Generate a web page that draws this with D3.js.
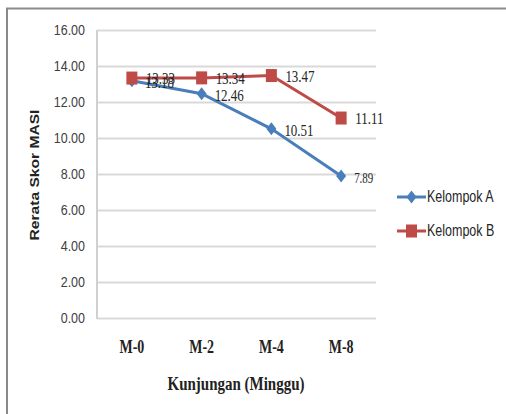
<!DOCTYPE html>
<html>
<head>
<meta charset="utf-8">
<script src="https://cdn.jsdelivr.net/npm/d3@7"></script>
<style>
  html, body { margin: 0; padding: 0; background: #fff; }
  svg { display: block; }
</style>
</head>
<body>
<svg id="chart" width="506" height="414"></svg>
<script>
// Mean MASI score per visit week for two groups
const categories = ["M-0", "M-2", "M-4", "M-8"];
const kelompokA = [13.18, 12.46, 10.51, 7.89];
const kelompokB = [13.33, 13.34, 13.47, 11.11];
const yTicks = [0, 2, 4, 6, 8, 10, 12, 14, 16];
const seriesNames = ["Kelompok A", "Kelompok B"];

const svg = d3.select("#chart");
const W = 506, H = 414;
const plot = { left: 97, right: 376, top: 30, bottom: 318 };
const stretch = 1.3; // text is drawn slightly tall and narrow

const x = d3.scaleBand().domain(categories).range([plot.left, plot.right]).padding(0);
const y = d3.scaleLinear().domain([0, 16]).range([plot.bottom, plot.top]);
const cx = c => x(c) + x.bandwidth() / 2;

// outer frame (only its top and left edges fall inside the view)
svg.append("path")
  .attr("d", `M7,${H} L7,8.5 L${W},8.5`)
  .attr("fill", "none").attr("stroke", "#8a8a8a").attr("stroke-width", 2);

// horizontal gridlines
const yAxis = d3.axisLeft(y).tickValues(yTicks).tickSize(-(plot.right - plot.left))
  .tickFormat(d3.format(".2f")).tickPadding(12);
const gY = svg.append("g").attr("transform", `translate(${plot.left},0)`).call(yAxis);
gY.select(".domain").remove();
gY.selectAll(".tick line").attr("stroke", "#d9d9d9").attr("stroke-width", 2);
gY.selectAll(".tick text")
  .attr("font-family", "'Liberation Sans', Arial, sans-serif")
  .attr("font-size", 12.5).attr("fill", "#404040")
  .attr("x", null).attr("dy", null)
  .attr("text-anchor", "end")
  .attr("transform", `translate(-12,4.5) scale(1,${stretch * 0.95})`);

// left axis line
svg.append("line")
  .attr("x1", plot.left).attr("x2", plot.left)
  .attr("y1", plot.top).attr("y2", plot.bottom + 1)
  .attr("stroke", "#d0d0d0").attr("stroke-width", 2);

// category labels
svg.append("g").selectAll("text").data(categories).join("text")
  .attr("transform", d => `translate(${cx(d)},353) scale(1,${stretch})`)
  .attr("text-anchor", "middle")
  .attr("font-family", "'Liberation Serif', 'Times New Roman', serif")
  .attr("font-weight", "bold").attr("font-size", 14).attr("fill", "#222")
  .text(d => d);

// axis titles
svg.append("text")
  .attr("transform", `translate(236,390) scale(1,${stretch})`)
  .attr("text-anchor", "middle")
  .attr("font-family", "'Liberation Serif', 'Times New Roman', serif")
  .attr("font-weight", "bold").attr("font-size", 15).attr("fill", "#222")
  .text("Kunjungan (Minggu)");

svg.append("text")
  .attr("transform", `translate(39,175) rotate(-90) scale(${stretch},1)`)
  .attr("text-anchor", "middle")
  .attr("font-family", "'Liberation Sans', Arial, sans-serif")
  .attr("font-weight", "bold").attr("font-size", 12).attr("fill", "#222")
  .text("Rerata Skor MASI");

const series = [
  { name: seriesNames[0], values: kelompokA, color: "#4a7ebb", shape: "diamond" },
  { name: seriesNames[1], values: kelompokB, color: "#be4b48", shape: "square" }
];

const line = d3.line().x((d, i) => cx(categories[i])).y(d => y(d));

function marker(g, shape, color) {
  if (shape === "square") {
    g.append("rect").attr("x", -5.5).attr("y", -6.5).attr("width", 11).attr("height", 13)
      .attr("fill", color);
  } else {
    g.append("path").attr("d", "M0,-6.5 L5,0 L0,6.5 L-5,0 Z").attr("fill", color);
  }
}

series.forEach(s => {
  svg.append("path").datum(s.values)
    .attr("d", line).attr("fill", "none")
    .attr("stroke", s.color).attr("stroke-width", 3);
  s.values.forEach((v, i) => {
    const g = svg.append("g").attr("transform", `translate(${cx(categories[i])},${y(v)})`);
    marker(g, s.shape, s.color);
  });
});

// value labels
const labelFont = "'Liberation Serif', 'Times New Roman', serif";
series.forEach((s, si) => {
  s.values.forEach((v, i) => {
    const small = si === 0 && i === 3;
    const dx = si === 0 ? 13 : 14;
    const dy = si === 0 ? 7 : 6;
    svg.append("text")
      .attr("transform", `translate(${cx(categories[i]) + dx},${y(v) + dy}) scale(1,${stretch})`)
      .attr("font-family", labelFont)
      .attr("font-size", small ? 11 : 13)
      .attr("fill", "#262626")
      .text(v.toFixed(2));
  });
});

// legend
const legend = svg.append("g");
series.forEach((s, i) => {
  const ly = 197 + i * 34;
  legend.append("line").attr("x1", 397).attr("x2", 426).attr("y1", ly).attr("y2", ly)
    .attr("stroke", s.color).attr("stroke-width", 3);
  const g = legend.append("g").attr("transform", `translate(411.5,${ly})`);
  marker(g, s.shape, s.color);
  legend.append("text")
    .attr("transform", `translate(427,${ly + 5}) scale(1,${stretch})`)
    .attr("font-family", "'Liberation Sans', Arial, sans-serif")
    .attr("font-size", 12.5).attr("fill", "#262626")
    .text(s.name);
});
</script>
</body>
</html>
